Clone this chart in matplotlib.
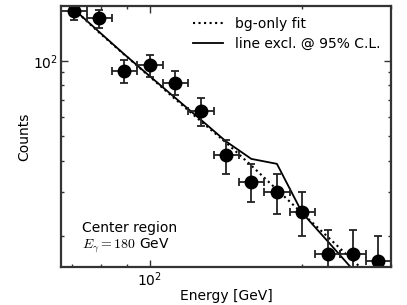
import numpy as np
import matplotlib
matplotlib.use("Agg")
import matplotlib.pyplot as plt
from matplotlib.ticker import NullFormatter

plt.rcParams['mathtext.fontset'] = 'cm'
plt.rcParams['font.size'] = 10

# binned counts (center region)
bin_lo = [66.7, 74.9, 84.1, 94.4, 106.0, 119.0, 133.6, 150.0, 168.4, 189.0, 212.2, 238.2, 267.4]
bin_hi = [74.9, 84.1, 94.4, 106.0, 119.0, 133.6, 150.0, 168.4, 189.0, 212.2, 238.2, 267.4, 300.0]
energy = [70.7, 79.3, 89.0, 100.0, 112.2, 126.0, 141.4, 158.7, 178.3, 200.1, 224.7, 252.2, 283.1]
counts = [159, 148, 91, 96, 82, 63, 42, 33, 30, 25, 17, 17, 16]
count_err = [12.6, 12.2, 9.5, 9.8, 9.1, 7.9, 6.5, 5.7, 5.5, 5.0, 4.1, 4.1, 4.0]

# model curves evaluated at bin centers
bg_fit = [161, 130, 106, 86.5, 70.5, 57.6, 47.3, 38.3, 30.7, 24.7, 19.9, 16.0, 12.9]
line_excl = [161, 130.8, 106.3, 86.9, 71.3, 58.4, 47.8, 40.7, 38.9, 24.8, 19.1, 14.7, 11.8]

energy = np.array(energy)
xerr = [energy - np.array(bin_lo), np.array(bin_hi) - energy]

fig = plt.figure(figsize=(4.07, 3.05), dpi=100)
ax = fig.add_axes([0.150, 0.125, 0.811, 0.855])

ax.plot(energy, bg_fit, color='black', ls=':', lw=1.5, label='bg-only fit')
ax.plot(energy, line_excl, color='black', ls='-', lw=1.3, label='line excl. @ 95% C.L.')
ax.errorbar(energy, counts, xerr=xerr, yerr=count_err, fmt='o', color='black',
            ms=9, elinewidth=1.3, ecolor='#222222', capsize=3, capthick=1.3)

ax.set_xscale('log')
ax.set_yscale('log')
ax.set_xlim(66.7, 300)
ax.set_ylim(15.1, 165.6)
ax.xaxis.set_minor_formatter(NullFormatter())
ax.yaxis.set_minor_formatter(NullFormatter())
ax.tick_params(which='both', direction='in', top=True, right=True, color='#333333')
ax.tick_params(which='major', length=5, width=1, pad=2.5)
ax.tick_params(which='minor', length=2.5, width=1)
for s in ax.spines.values():
    s.set_linewidth(1.6)
    s.set_color('#333333')

ax.set_xlabel('Energy [GeV]', labelpad=0)
ax.set_ylabel('Counts', labelpad=1)
ax.legend(loc='upper right', frameon=False, fontsize=10, handlelength=2.2,
          borderaxespad=0.3, labelspacing=0.4, borderpad=0.5)
ax.text(0.062, 0.045, 'Center region\n$E_\\gamma = 180$ GeV', transform=ax.transAxes,
        ha='left', va='bottom', fontsize=10)

fig.savefig('out.png', dpi=100)
